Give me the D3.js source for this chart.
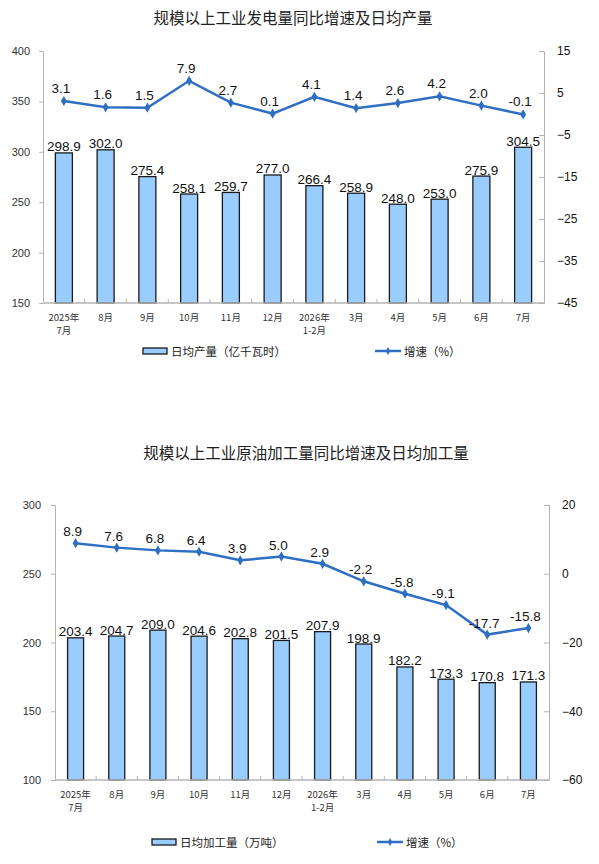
<!DOCTYPE html>
<html>
<head>
<meta charset="utf-8">
<title>规模以上工业</title>
<script src="https://d3js.org/d3.v7.min.js"></script>
<style>
  body { margin: 0; background: #fff; }
  svg { display: block; }
</style>
</head>
<body>
<script>
// categories shared by both charts
var months = ["2025年\n7月", "8月", "9月", "10月", "11月", "12月", "2026年\n1-2月", "3月", "4月", "5月", "6月", "7月"];

// chart 1: electricity
var powerDaily = [298.9, 302.0, 275.4, 258.1, 259.7, 277.0, 266.4, 258.9, 248.0, 253.0, 275.9, 304.5];
var powerGrowth = [3.1, 1.6, 1.5, 7.9, 2.7, 0.1, 4.1, 1.4, 2.6, 4.2, 2.0, -0.1];
var powerLeftTicks = [150, 200, 250, 300, 350, 400];
var powerRightTicks = [-45, -35, -25, -15, -5, 5, 15];

// chart 2: crude oil processing
var oilDaily = [203.4, 204.7, 209.0, 204.6, 202.8, 201.5, 207.9, 198.9, 182.2, 173.3, 170.8, 171.3];
var oilGrowth = [8.9, 7.6, 6.8, 6.4, 3.9, 5.0, 2.9, -2.2, -5.8, -9.1, -17.7, -15.8];
var oilLeftTicks = [100, 150, 200, 250, 300];
var oilRightTicks = [-60, -40, -20, 0, 20];

var svg = d3.select("body").append("svg")
  .attr("width", 599)
  .attr("height", 864);

var cjk = "'Noto Sans CJK SC', 'Noto Sans', sans-serif";
var latin = "'Liberation Sans', Arial, sans-serif";
var barFill = "#99ccff";
var lineColor = "#2e6fc4";
var axisColor = "#b3b3b3";

function drawChart(c) {
  var g = svg.append("g");

  g.append("text")
    .attr("x", c.titleX).attr("y", c.titleY)
    .attr("text-anchor", "middle")
    .attr("font-family", cjk).attr("font-size", 15.5)
    .attr("fill", "#222")
    .text(c.title);

  var x = d3.scaleBand().domain(d3.range(months.length))
    .range([c.left, c.right]).padding(0);
  var yL = d3.scaleLinear().domain(c.leftDomain).range([c.bottom, c.top]);
  var yR = d3.scaleLinear().domain(c.rightDomain).range([c.bottom, c.top]);
  var bw = c.barWidth;
  var cx = function(i) { return x(i) + x.bandwidth() / 2; };

  // left axis
  var axL = g.append("g").attr("transform", "translate(" + c.left + ",0)")
    .call(d3.axisLeft(yL).tickValues(c.leftTicks).tickSize(4).tickPadding(c.leftPad).tickFormat(d3.format("d")));
  axL.select(".domain").attr("stroke", axisColor);
  axL.selectAll(".tick line").attr("stroke", axisColor);
  axL.selectAll("text").attr("font-family", latin).attr("font-size", 11).attr("fill", "#333");

  // right axis
  var axR = g.append("g").attr("transform", "translate(" + c.right + ",0)")
    .call(d3.axisRight(yR).tickValues(c.rightTicks).tickSize(-5).tickPadding(13).tickFormat(d3.format("d")));
  axR.select(".domain").attr("stroke", axisColor);
  axR.selectAll(".tick line").attr("stroke", axisColor);
  axR.selectAll("text").attr("font-family", latin).attr("font-size", 12).attr("fill", "#111");

  // bars
  g.selectAll("rect.bar").data(c.bars).enter().append("rect")
    .attr("class", "bar")
    .attr("x", function(d, i) { return cx(i) - bw / 2; })
    .attr("y", function(d) { return yL(d); })
    .attr("width", bw)
    .attr("height", function(d) { return c.bottom - yL(d); })
    .attr("fill", barFill)
    .attr("stroke", "#1a1a1a")
    .attr("stroke-width", 1.3);

  g.selectAll("text.barlab").data(c.bars).enter().append("text")
    .attr("class", "barlab")
    .attr("x", function(d, i) { return cx(i); })
    .attr("y", function(d) { return yL(d) - 1.5; })
    .attr("text-anchor", "middle")
    .attr("font-family", latin).attr("font-size", 13.5).attr("fill", "#111")
    .text(function(d) { return d.toFixed(1); });

  // x axis line and ticks between categories
  g.append("line")
    .attr("x1", c.left).attr("x2", c.right)
    .attr("y1", c.bottom).attr("y2", c.bottom)
    .attr("stroke", axisColor).attr("stroke-width", 1.5);
  g.selectAll("line.xt").data(d3.range(1, months.length)).enter().append("line")
    .attr("class", "xt")
    .attr("x1", function(d) { return x(d); }).attr("x2", function(d) { return x(d); })
    .attr("y1", c.bottom).attr("y2", c.bottom - 4)
    .attr("stroke", axisColor);

  // month labels, one text per line
  var rows = [];
  months.forEach(function(m, i) {
    m.split("\n").forEach(function(p, k) { rows.push({ i: i, k: k, t: p }); });
  });
  g.selectAll("text.xl").data(rows).enter().append("text")
    .attr("class", "xl")
    .attr("x", function(d) { return cx(d.i); })
    .attr("y", function(d) { return c.bottom + 18 + d.k * 13; })
    .attr("text-anchor", "middle")
    .attr("font-family", cjk).attr("font-size", 9.5).attr("fill", "#333")
    .text(function(d) { return d.t; });

  // growth line
  var line = d3.line()
    .x(function(d, i) { return cx(i); })
    .y(function(d) { return yR(d); });
  g.append("path").datum(c.growth)
    .attr("d", line)
    .attr("fill", "none")
    .attr("stroke", lineColor)
    .attr("stroke-width", 2.5);

  var diamond = d3.symbol().type(d3.symbolDiamond).size(30);
  g.selectAll("path.mk").data(c.growth).enter().append("path")
    .attr("class", "mk")
    .attr("d", diamond)
    .attr("transform", function(d, i) { return "translate(" + cx(i) + "," + yR(d) + ")"; })
    .attr("fill", lineColor);

  g.selectAll("text.gl").data(c.growth).enter().append("text")
    .attr("class", "gl")
    .attr("x", function(d, i) { return cx(i) - 3; })
    .attr("y", function(d) { return yR(d) - c.lineLabelGap; })
    .attr("text-anchor", "middle")
    .attr("font-family", latin).attr("font-size", 13.5).attr("fill", "#111")
    .text(function(d) { return d.toFixed(1); });

  // legend
  var ly = c.legendY;
  g.append("rect")
    .attr("x", c.legendX1).attr("y", ly - 3)
    .attr("width", 24).attr("height", 6)
    .attr("fill", barFill).attr("stroke", "#1a1a1a").attr("stroke-width", 1.3);
  g.append("text")
    .attr("x", c.legendX1 + 28).attr("y", ly + 4.5)
    .attr("font-family", cjk).attr("font-size", 11.5).attr("fill", "#222")
    .text(c.barName);
  g.append("line")
    .attr("x1", c.legendX2).attr("x2", c.legendX2 + 26)
    .attr("y1", ly).attr("y2", ly)
    .attr("stroke", lineColor).attr("stroke-width", 2.5);
  g.append("path")
    .attr("d", d3.symbol().type(d3.symbolDiamond).size(18))
    .attr("transform", "translate(" + (c.legendX2 + 13) + "," + ly + ")")
    .attr("fill", lineColor);
  g.append("text")
    .attr("x", c.legendX2 + 29).attr("y", ly + 4.5)
    .attr("font-family", cjk).attr("font-size", 11.5).attr("fill", "#222")
    .text("增速（%）");
}

drawChart({
  title: "规模以上工业发电量同比增速及日均产量",
  titleX: 293, titleY: 24,
  left: 43, right: 544, top: 51, bottom: 303,
  leftDomain: [150, 400], rightDomain: [-45, 15],
  leftTicks: powerLeftTicks, rightTicks: powerRightTicks, leftPad: 9,
  bars: powerDaily, growth: powerGrowth,
  barWidth: 17, lineLabelGap: 8,
  legendY: 351, legendX1: 143, legendX2: 375,
  barName: "日均产量（亿千瓦时）"
});

drawChart({
  title: "规模以上工业原油加工量同比增速及日均加工量",
  titleX: 306, titleY: 459,
  left: 55, right: 549, top: 505, bottom: 780,
  leftDomain: [100, 300], rightDomain: [-60, 20],
  leftTicks: oilLeftTicks, rightTicks: oilRightTicks, leftPad: 10,
  bars: oilDaily, growth: oilGrowth,
  barWidth: 16, lineLabelGap: 7,
  legendY: 842, legendX1: 152, legendX2: 377,
  barName: "日均加工量（万吨）"
});
</script>
</body>
</html>
